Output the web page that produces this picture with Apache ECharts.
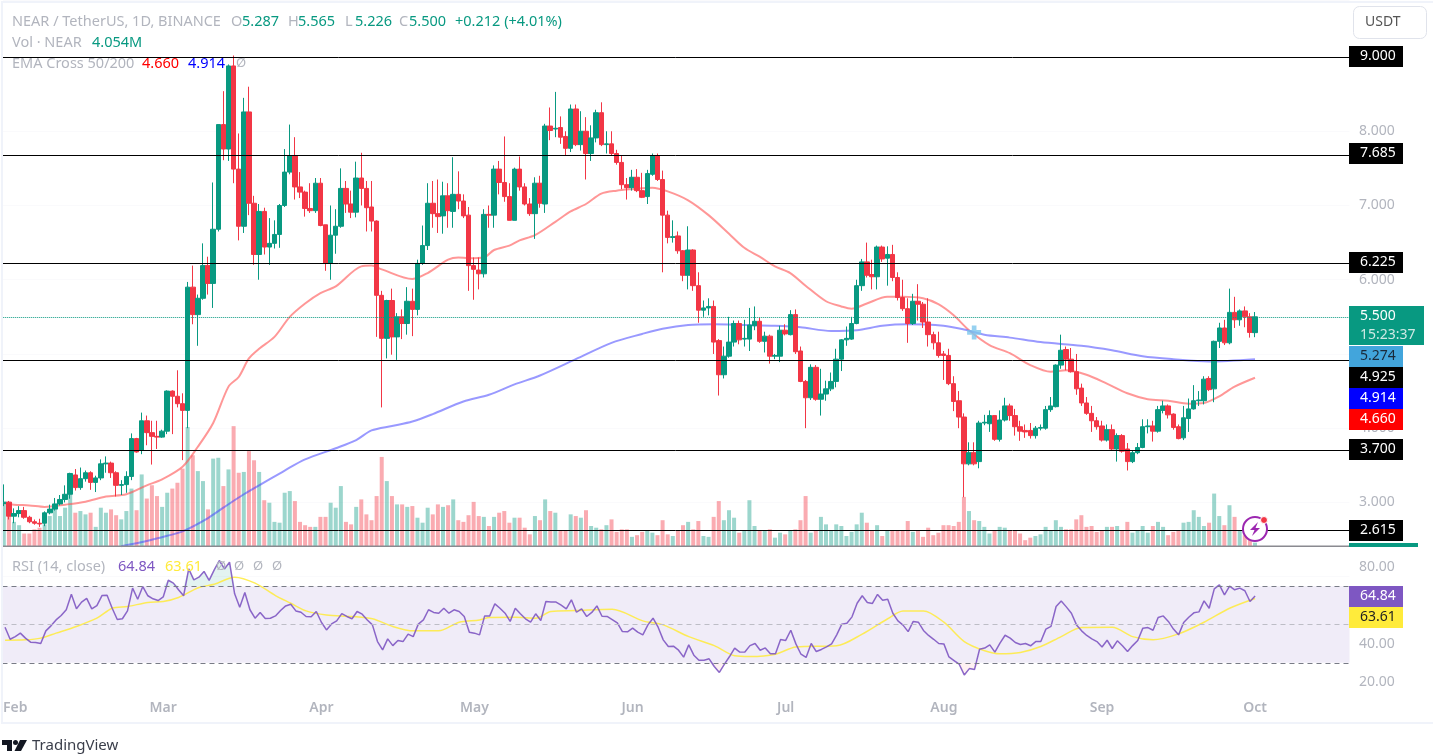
<!DOCTYPE html>
<html>
<head>
<meta charset="utf-8">
<title>NEAR / TetherUS</title>
<style>
html, body { margin: 0; padding: 0; background: #fff; }
#chart { width: 1433px; height: 756px; }
</style>
<script src="https://cdn.jsdelivr.net/npm/echarts@6/dist/echarts.min.js"></script>
</head>
<body>
<div id="chart"></div>
<script>
// daily bars, 30 Jan 2024 to 1 Oct 2024
var opens = [
  2.986,3.004,2.815,2.85,2.89,2.80,2.74,2.72,2.72,2.86,
  2.91,2.98,3.04,3.11,3.37,3.20,3.32,3.40,3.27,3.33,
  3.52,3.53,3.40,3.23,3.24,3.35,3.86,3.70,4.10,3.94,
  3.89,3.88,3.96,4.50,4.43,4.33,4.24,5.90,5.53,5.75,
  6.19,5.95,6.68,8.09,7.76,8.88,7.49,6.72,8.26,7.03,
  6.34,6.92,6.44,6.49,6.61,7.0,7.45,7.67,7.25,7.18,
  6.96,6.93,7.30,6.74,6.22,6.6,6.72,7.23,7.02,6.91,
  7.37,7.23,6.98,6.79,5.79,5.21,5.72,5.23,5.50,5.41,
  5.71,5.60,6.22,6.46,7.03,6.89,6.86,7.13,6.92,7.15,
  7.06,6.87,6.19,6.13,6.08,6.88,6.87,7.49,7.31,7.12,
  6.80,7.49,7.25,7.02,6.89,7.30,7.02,8.07,8.03,8.05,
  7.93,7.77,8.30,7.82,8.0,7.70,7.91,8.25,7.82,7.83,
  7.70,7.58,7.28,7.24,7.38,7.20,7.12,7.42,7.67,7.35,
  6.87,6.57,6.59,6.39,6.06,6.40,5.92,5.59,5.62,5.64,
  5.18,4.72,4.97,5.16,5.41,5.2,5.2,5.38,5.44,5.17,
  5.24,4.97,4.97,5.32,5.26,5.53,5.04,4.63,4.41,4.82,
  4.39,4.46,4.53,4.63,4.93,5.19,5.2,5.41,5.92,6.24,
  6.07,6.04,6.44,6.29,6.34,6.03,5.76,5.61,5.41,5.71,
  5.67,5.43,5.26,5.15,5.0,4.98,4.6,4.37,4.15,3.52,
  3.67,3.55,4.07,4.06,4.17,3.85,4.11,4.30,4.17,4.02,
  3.97,3.97,3.9,4.0,4.0,4.25,4.29,4.85,5.06,4.93,
  4.76,4.54,4.34,4.2,4.1,4.03,3.84,3.98,3.72,3.9,
  3.72,3.55,3.67,3.74,4.02,4.03,3.96,4.24,4.3,4.19,
  4.02,3.87,4.13,4.26,4.37,4.37,4.67,4.53,5.17,5.35,
  5.15,5.56,5.46,5.58,5.5,5.287
];
var closes = [
  3.004,2.815,2.85,2.89,2.80,2.74,2.72,2.71,2.86,2.91,
  2.98,3.04,3.11,3.39,3.20,3.32,3.40,3.27,3.33,3.52,
  3.53,3.40,3.23,3.24,3.35,3.86,3.68,4.10,3.94,3.89,
  3.88,3.96,4.50,4.43,4.33,4.24,5.90,5.53,5.75,6.19,
  5.95,6.68,8.09,7.76,8.88,7.49,6.72,8.26,7.03,6.34,
  6.92,6.44,6.49,6.61,7.0,7.45,7.67,7.25,7.18,6.96,
  6.93,7.30,6.73,6.22,6.6,6.72,7.23,7.02,6.91,7.37,
  7.23,6.97,6.79,5.79,5.21,5.72,5.23,5.50,5.41,5.71,
  5.60,6.22,6.46,7.03,6.89,6.85,7.13,6.93,7.15,7.06,
  6.86,6.19,6.14,6.08,6.88,6.87,7.49,7.31,7.12,6.80,
  7.49,7.25,7.02,6.89,7.30,7.03,8.07,8.01,8.04,7.92,
  7.77,8.30,7.82,8.0,7.70,7.91,8.25,7.82,7.83,7.70,
  7.58,7.28,7.24,7.38,7.20,7.11,7.43,7.67,7.35,6.87,
  6.57,6.58,6.39,6.06,6.40,5.92,5.59,5.62,5.64,5.16,
  4.72,4.97,5.16,5.41,5.19,5.21,5.39,5.44,5.17,5.24,
  4.97,4.98,5.32,5.27,5.53,5.03,4.63,4.41,4.82,4.39,
  4.46,4.53,4.63,4.93,5.19,5.21,5.41,5.92,6.24,6.06,
  6.04,6.44,6.28,6.34,6.03,5.76,5.61,5.41,5.71,5.67,
  5.43,5.26,5.15,4.98,4.98,4.6,4.36,4.15,3.52,3.67,
  3.52,4.07,4.08,4.17,3.85,4.11,4.30,4.17,4.02,3.96,
  3.95,3.9,4.0,4.01,4.25,4.3,4.85,5.05,4.93,4.76,
  4.53,4.34,4.2,4.1,4.02,3.84,3.98,3.72,3.9,3.69,
  3.55,3.67,3.74,4.02,4.03,3.96,4.25,4.3,4.18,4.01,
  3.86,4.14,4.26,4.37,4.38,4.66,4.52,5.17,5.35,5.15,
  5.56,5.46,5.58,5.5,5.29,5.5
];
var highs = [
  3.243,3.02,2.92,2.95,2.94,2.82,2.77,2.78,2.88,2.97,
  3.06,3.10,3.23,3.40,3.45,3.47,3.43,3.42,3.36,3.58,
  3.62,3.55,3.42,3.30,3.42,3.93,3.87,4.21,4.17,4.10,
  4.10,3.98,4.51,4.51,4.78,4.47,5.97,6.19,5.80,6.49,
  6.31,7.31,8.09,8.54,8.90,9.02,7.97,8.45,8.60,7.13,
  7.02,6.97,6.83,6.80,7.02,7.76,8.09,7.92,7.45,7.20,
  7.30,7.37,7.37,6.74,7.0,6.95,7.5,7.33,7.2,7.59,
  7.71,7.33,7.33,6.8,5.85,5.73,5.88,5.55,5.6,5.90,
  5.88,6.27,6.73,7.3,7.33,7.35,7.32,7.3,7.65,7.46,
  7.15,6.98,6.3,6.3,6.95,7.0,7.54,7.6,7.93,7.3,
  7.51,7.66,7.3,7.1,7.38,7.4,8.10,8.32,8.53,8.2,
  8.0,8.36,8.36,8.27,8.19,8.08,8.29,8.39,8.0,8.0,
  7.75,7.68,7.37,7.48,7.49,7.44,7.48,7.70,7.70,7.47,
  6.93,6.8,6.65,6.4,6.72,6.41,6.1,5.72,5.75,5.72,
  5.2,5.1,5.5,5.45,5.45,5.46,5.62,5.64,5.49,5.3,
  5.26,5.0,5.38,5.4,5.59,5.6,5.1,4.65,4.86,4.85,
  4.8,4.64,4.75,5.07,5.2,5.37,5.5,6.0,6.28,6.5,
  6.27,6.46,6.46,6.45,6.47,6.1,6.0,5.75,5.81,5.94,
  5.7,5.75,5.3,5.3,5.04,5.07,4.7,4.5,4.2,3.81,
  3.81,4.1,4.18,4.24,4.17,4.24,4.41,4.33,4.26,4.1,
  4.05,4.07,4.03,4.05,4.3,4.42,4.86,5.26,5.1,5.08,
  5.0,4.6,4.42,4.3,4.15,4.1,4.05,4.05,3.93,3.92,
  3.8,3.7,3.8,4.12,4.12,4.1,4.3,4.37,4.32,4.2,
  4.05,4.3,4.4,4.58,4.5,4.7,4.7,5.18,5.42,5.46,
  5.88,5.77,5.6,5.64,5.55,5.565
];
var lows = [
  2.95,2.77,2.72,2.80,2.78,2.72,2.70,2.67,2.68,2.84,
  2.89,2.96,3.0,3.05,3.16,3.17,3.28,3.17,3.14,3.30,
  3.40,3.33,3.08,3.10,3.13,3.30,3.67,3.65,3.77,3.51,
  3.72,3.87,3.92,3.92,4.28,3.57,4.0,5.40,5.11,5.73,
  5.80,5.62,6.65,7.61,7.60,7.30,6.53,6.63,6.87,6.20,
  6.0,6.34,6.2,6.42,6.43,6.98,7.42,7.08,7.10,6.85,
  6.9,6.9,6.72,6.12,6.0,6.35,6.7,6.9,6.83,6.84,
  7.0,6.65,6.65,5.23,4.28,4.94,4.99,4.92,5.2,5.26,
  5.24,5.52,6.2,6.4,6.7,6.63,6.62,6.7,6.7,6.95,
  6.83,5.85,5.73,5.87,6.03,6.7,6.7,7.15,7.05,6.8,
  6.8,7.2,7.0,6.86,6.55,6.97,6.9,7.88,7.92,7.83,
  7.68,7.72,7.8,7.74,7.35,7.6,7.85,7.8,7.7,7.68,
  7.55,7.22,7.08,7.2,7.18,7.1,7.02,7.40,7.33,6.1,
  6.49,6.5,6.35,5.98,5.87,5.85,5.42,5.5,5.52,5.0,
  4.44,4.67,4.95,5.1,5.13,5.1,5.04,5.32,5.15,5.02,
  4.87,4.93,4.89,5.25,5.25,5.0,4.62,4.0,4.38,4.37,
  4.17,4.37,4.5,4.55,4.77,5.11,5.19,5.4,5.85,6.03,
  5.87,5.87,6.24,5.92,5.98,5.72,5.58,5.15,5.39,5.45,
  5.35,5.1,5.06,4.95,4.65,4.58,4.23,4.0,3.07,3.5,
  3.5,3.46,4.04,3.95,3.83,3.82,4.09,4.1,3.9,3.83,
  3.87,3.86,3.86,3.97,3.98,4.22,4.28,4.8,4.78,4.75,
  4.45,4.3,4.18,3.95,3.98,3.82,3.82,3.7,3.55,3.67,
  3.43,3.53,3.65,3.73,3.93,3.82,3.94,4.2,4.13,3.98,
  3.85,3.84,3.95,4.25,4.3,4.32,4.5,4.35,5.08,5.12,
  5.13,5.35,5.38,5.36,5.22,5.226
];
// volume in millions
var volumes = [
  52,53,29,25,15,15,20,22,26,36,
  44,36,46,62,40,42,38,40,23,46,
  40,44,37,32,42,69,43,86,57,73,
  60,47,64,69,76,93,143,109,90,78,
  44,105,106,72,92,144,88,89,114,103,
  89,55,52,29,28,64,66,54,29,25,
  23,23,35,35,52,46,72,29,26,47,
  56,38,31,60,107,78,60,50,50,47,
  48,34,28,46,38,50,47,49,56,31,
  29,37,53,36,35,24,35,40,42,28,
  34,34,22,14,36,31,56,42,40,18,
  18,38,36,34,43,24,22,20,25,32,
  17,20,20,11,13,17,18,16,13,31,
  14,12,18,25,29,20,30,12,11,35,
  54,31,43,34,16,18,55,24,18,18,
  20,10,16,14,18,20,31,60,16,18,
  35,26,18,26,24,12,17,26,40,28,
  18,25,12,18,18,18,18,30,17,18,
  11,22,13,16,25,25,24,29,59,42,
  31,30,23,15,18,23,22,18,18,15,
  7,10,12,14,23,19,31,23,20,20,
  32,37,23,24,17,18,23,23,24,18,
  29,16,19,24,16,24,29,23,13,17,
  18,28,29,43,35,24,28,63,36,25,
  49,35,18,13,8,4.054
];
var rsi = [
  48.6,42.3,43.7,45.5,42.9,40.8,40.6,40.1,46.7,49.3,
  52.4,54.7,57.7,65.8,58.2,61.7,63.6,58.2,59.9,65.1,
  65.3,58.5,52.6,53,57.1,69,63.2,69.8,65,63.4,
  62.5,64.4,73.1,71.6,68.1,65,79,73.3,74.7,77.7,
  73,78.5,83.4,79,82.5,66,59,66.7,57.7,53.3,
  56.3,53.1,53.3,54.5,57.3,59.7,60.6,57.1,56.4,54.2,
  54,56.8,51.2,47.2,50.3,51.9,55.7,54.2,53,56.8,
  55.4,52.4,49.8,41.1,36.8,42.5,39,41.7,41.1,45,
  43.7,50.2,52.4,57.7,56.3,55.9,58.5,55.9,57.7,56.8,
  54.2,46,45.5,44.6,54.5,54.5,60.8,58.5,55.9,51.6,
  58.5,55.6,53,51.2,55.6,52.1,62,61.8,61.7,60.1,
  58.2,62.9,56.4,58.2,54.2,56.3,59.7,54.3,54.2,52.6,
  50.9,46.3,46.2,48.1,46,44.6,49.8,53.3,48.6,42,
  38.5,38.7,36.6,33,39.4,34,31.4,31.4,32.1,28.1,
  25,29.3,33.3,37.7,35.6,35.7,39,40.1,36.6,37.8,
  34.7,34.7,42.2,41.7,47,39.9,34.5,32.8,40.1,35.9,
  37,38.3,39.9,44.6,50.2,50.7,54,61.1,65,61.5,
  61,65.7,62.7,63.2,55.9,51.9,49.7,46.3,51.6,51.2,
  46.9,44.3,42.3,40.1,39.9,33.1,31.2,29.3,23.7,27,
  26.5,37.1,37.7,39.4,35.6,40.3,44.4,42.9,40.6,39.6,
  40.1,38.9,41.1,41.1,47.6,49,59.4,62.3,59.2,55.9,
  49.8,46.7,44.3,42.5,41.1,38.3,41.8,37.5,41.5,38.9,
  35.9,39,41.7,48.1,48.4,47,53.7,54.5,51.6,47.6,
  44.6,51,53.8,56.1,56.6,62.3,58.5,68.6,70.7,65.5,
  70,68.1,69,67.6,62,64.84
];
// the smooth lines are read at a sample of days: [bar number, value]
var ema50 = [
  [0,2.99],[2,2.97],[5,2.96],[8,2.94],[12,2.97],[16,3.01],[20,3.08],[24,3.11],[28,3.23],[31,3.31],
  [35,3.48],[38,3.75],[41,4.07],[44,4.56],[46,4.69],[48,4.94],[50,5.07],[53,5.23],[56,5.50],[59,5.68],
  [62,5.82],[65,5.91],[70,6.18],[72,6.19],[74,6.14],[80,6.01],[83,6.09],[87,6.27],[89,6.30],[91,6.29],
  [94,6.30],[96,6.40],[99,6.46],[101,6.53],[104,6.60],[108,6.78],[111,6.92],[114,7.02],[117,7.16],[120,7.20],
  [123,7.22],[127,7.24],[130,7.19],[134,7.07],[138,6.87],[142,6.62],[145,6.43],[148,6.31],[151,6.18],[154,6.09],
  [157,5.92],[161,5.71],[164,5.64],[166,5.61],[169,5.68],[173,5.77],[176,5.77],[180,5.75],[183,5.67],[186,5.52],
  [189,5.32],[193,5.12],[197,5.01],[201,4.85],[205,4.76],[208,4.78],[212,4.72],[216,4.60],[220,4.47],[224,4.39],
  [228,4.37],[232,4.33],[235,4.34],[238,4.43],[241,4.56],[245,4.68]
];
var ema200 = [
  [23,2.41],[28,2.48],[32,2.55],[35,2.61],[40,2.79],[43,2.93],[47,3.11],[51,3.27],[55,3.43],[59,3.58],
  [65,3.73],[69,3.84],[72,3.97],[76,4.03],[80,4.09],[84,4.19],[90,4.36],[95,4.45],[100,4.59],[105,4.71],
  [112,4.93],[119,5.15],[125,5.27],[129,5.34],[134,5.39],[139,5.40],[145,5.39],[151,5.38],[156,5.36],[162,5.31],
  [167,5.32],[172,5.38],[177,5.40],[184,5.38],[188,5.33],[192,5.26],[197,5.22],[203,5.16],[211,5.11],[217,5.05],
  [223,4.97],[229,4.93],[236,4.90],[245,4.93]
];
var rsiMa = [
  [0,41.8],[4,42],[7,42.9],[10,45.5],[14,49],[18,53.3],[21,58.5],[24,59.4],[28,61.5],[31,62],
  [34,64.1],[38,69.3],[41,71],[45,74.7],[49,71.6],[53,65.1],[56,61.1],[59,57.1],[63,55],[68,54.2],
  [72,53],[76,49],[80,46.7],[85,46.7],[89,51.2],[93,52.4],[95,53.7],[100,53.8],[104,53.3],[107,56.8],
  [112,57.3],[119,58],[125,51.9],[129,49.8],[134,43.7],[139,39],[143,33.7],[146,33.3],[151,34.5],[155,38.3],
  [163,38.9],[168,45],[173,53],[176,57],[180,57.1],[184,51.2],[188,41.1],[192,36.3],[195,34.7],[199,35.4],
  [203,38.5],[207,43.7],[211,48.4],[217,48.6],[221,43.7],[225,42],[230,45.1],[235,51.2],[240,58.5],[245,63.61]
];
var crossPoint = [[190, 5.29]];
var levels = [9, 7.685, 6.225, 4.925, 3.7, 2.615];
var lastPrice = 5.5;
var monthNames = { '02-01': 'Feb', '03-01': 'Mar', '04-01': 'Apr', '05-01': 'May', '06-01': 'Jun', '07-01': 'Jul', '08-01': 'Aug', '09-01': 'Sep', '10-01': 'Oct' };

var UP = '#089981', DOWN = '#F23645', MUTED = '#b2b5be';
var FONT = '"Noto Sans", sans-serif';
var BARS = 264; // room for the empty space right of the last bar

var days = [];
for (var k = 0; k < BARS; k++) {
  days.push(new Date(Date.UTC(2024, 0, 30 + k)).toISOString().slice(0, 10));
}
var candles = opens.map(function (o, i) { return [o, closes[i], lows[i], highs[i]]; });
var volumeBars = volumes.map(function (v, i) {
  return { value: v, itemStyle: { color: closes[i] >= opens[i] ? 'rgba(8,153,129,0.4)' : 'rgba(242,54,69,0.42)' } };
});

// helpers for the bits of chrome around the chart
function label(text, x, y, fill, size, extra) {
  var style = { text: text, x: x, y: y, fill: fill, font: (size || 14.5) + 'px ' + FONT, textVerticalAlign: 'middle' };
  for (var key in extra) style[key] = extra[key];
  return { type: 'text', z: 110, silent: true, style: style };
}
function box(x, y, w, h, fill) {
  return { type: 'rect', z: 105, silent: true, shape: { x: x, y: y, width: w, height: h }, style: { fill: fill } };
}
function tag(text, top, fill, color) {
  return [box(1349, top, 54, 21, fill), label(text, 1360, top + 10.5, color, 14)];
}

var graphics = [].concat(
  box(0, 0, 3, 723, '#fff'),
  box(0, 723, 1433, 33, '#fff'),
  box(1, 1, 1432, 2, '#f0f3fa'),
  box(1, 1, 2, 723, '#f0f3fa'),
  box(1, 722, 1432, 2, '#f0f3fa'),
  box(3, 545.5, 1346, 1.5, '#8a8a90'),
  box(1349, 543, 69, 4, UP),
  // legend rows
  label('NEAR / TetherUS, 1D, BINANCE', 12, 21.5, MUTED),
  label('O', 231, 21.5, MUTED), label('5.287', 242, 21.5, UP),
  label('H', 288, 21.5, MUTED), label('5.565', 298, 21.5, UP),
  label('L', 345, 21.5, MUTED), label('5.226', 355, 21.5, UP),
  label('C', 399, 21.5, MUTED), label('5.500', 409, 21.5, UP),
  label('+0.212 (+4.01%)', 455, 21.5, UP),
  label('Vol \u00b7 NEAR', 12, 43, MUTED), label('4.054M', 92, 43, UP),
  label('EMA Cross 50/200', 12, 63.5, MUTED), label('4.660', 142, 63.5, '#ff0000'), label('4.914', 188, 63.5, '#0000ff'),
  label('\u00d8', 236, 63.5, MUTED, 13),
  label('RSI (14, close)', 12, 566.5, MUTED), label('64.84', 118, 566.5, '#7e57c2'), label('63.61', 165, 566.5, '#ffeb3b'),
  label('\u00d8', 216, 566.5, MUTED, 13), label('\u00d8', 234, 566.5, MUTED, 13), label('\u00d8', 253, 566.5, MUTED, 13), label('\u00d8', 272, 566.5, MUTED, 13),
  // currency button
  { type: 'rect', z: 105, silent: true, shape: { x: 1353.5, y: 6.5, width: 73, height: 32, r: 6 }, style: { fill: '#fff', stroke: '#e0e3eb' } },
  label('USDT', 1365, 22, '#555', 14),
  // price tags
  tag('9.000', 46, '#000', '#fff'),
  tag('7.685', 143, '#000', '#fff'),
  tag('6.225', 252, '#000', '#fff'),
  box(1349, 306, 75, 39, UP),
  label('5.500', 1360, 316, '#fff', 14),
  label('15:23:37', 1360, 335, '#cfe9e4', 14),
  tag('5.274', 346, '#42a5dc', '#1a2a3a'),
  tag('4.925', 367, '#000', '#fff'),
  tag('4.914', 388, '#0000ff', '#fff'),
  tag('4.660', 409, '#ff0000', '#fff'),
  tag('3.700', 439, '#000', '#fff'),
  tag('2.615', 520, '#000', '#fff'),
  tag('64.84', 586, '#7e57c2', '#fff'),
  tag('63.61', 607, '#ffeb3b', '#222'),
  // lightning badge
  { type: 'circle', z: 105, silent: true, shape: { cx: 1255, cy: 529, r: 12 }, style: { fill: '#fff', stroke: '#9c27b0', lineWidth: 2 } },
  { type: 'polygon', z: 106, silent: true, shape: { points: [[1258, 522], [1250, 530], [1254.5, 530], [1252, 536], [1260, 528], [1255.5, 528]] }, style: { fill: '#9c27b0' } },
  { type: 'circle', z: 106, silent: true, shape: { cx: 1264, cy: 520, r: 3.5 }, style: { fill: DOWN, stroke: '#fff', lineWidth: 1 } },
  // TradingView mark
  { type: 'polygon', z: 106, silent: true, shape: { points: [[2, 740], [12, 740], [12, 751], [7, 751], [7, 745], [2, 745]] }, style: { fill: '#131722' } },
  { type: 'circle', z: 106, silent: true, shape: { cx: 15.5, cy: 742.5, r: 2.5 }, style: { fill: '#131722' } },
  { type: 'polygon', z: 106, silent: true, shape: { points: [[20, 740], [27, 740], [21, 751], [14.5, 751]] }, style: { fill: '#131722' } },
  label('TradingView', 32, 746, '#3a3e4a', 15)
);

var axisLabelStyle = { color: MUTED, fontFamily: FONT, fontSize: 14 };
var faint = { show: true, lineStyle: { color: '#fafafc', width: 1 } };

var chart = echarts.init(document.getElementById('chart'));
chart.setOption({
  animation: false,
  backgroundColor: '#fff',
  // scales are linear, 74.24 px per 1.0 price and 1.917 px per RSI point
  grid: [
    { left: 1.24, width: 1348.25, top: 0, height: 576.67 },
    { left: 1.24, width: 1348.25, top: 5, height: 541 },
    { left: 1.24, width: 1348.25, top: 528.67, height: 191.7 }
  ],
  xAxis: [
    { type: 'category', gridIndex: 0, data: days, show: false },
    { type: 'category', gridIndex: 1, data: days, show: false },
    {
      type: 'category', gridIndex: 2, data: days,
      axisLine: { show: false }, axisTick: { show: false }, splitLine: { show: false },
      axisLabel: {
        interval: 0, margin: -19.5, color: MUTED, fontFamily: FONT, fontSize: 14, fontWeight: 600,
        formatter: function (d) { return monthNames[d.slice(5)] || ''; }
      }
    }
  ],
  yAxis: [
    {
      type: 'value', gridIndex: 0, position: 'right', min: 2, max: 9.768, interval: 1,
      axisLine: { show: false }, axisTick: { show: false }, splitLine: faint,
      axisLabel: Object.assign({ margin: 9.5, formatter: function (v) { return v >= 3 && v <= 9 ? v.toFixed(3) : ''; } }, axisLabelStyle)
    },
    { type: 'value', gridIndex: 1, min: 0, max: 650, show: false },
    {
      type: 'value', gridIndex: 2, position: 'right', min: 0, max: 100, interval: 20,
      axisLine: { show: false }, axisTick: { show: false }, splitLine: { show: false },
      axisLabel: Object.assign({ margin: 9.5, formatter: function (v) { return v >= 20 && v <= 80 ? v.toFixed(2) : ''; } }, axisLabelStyle)
    }
  ],
  series: [
    {
      type: 'bar', name: 'Vol', xAxisIndex: 1, yAxisIndex: 1, data: volumeBars, barWidth: 4, z: 1
    },
    {
      type: 'line', name: 'EMA 50', data: ema50, smooth: 0.3, symbol: 'none', z: 2,
      lineStyle: { color: 'rgba(255,82,82,0.6)', width: 2 }
    },
    {
      type: 'line', name: 'EMA 200', data: ema200, smooth: 0.3, symbol: 'none', z: 2,
      lineStyle: { color: 'rgba(70,70,255,0.55)', width: 2 }
    },
    {
      type: 'candlestick', name: 'NEAR', data: candles, barWidth: 5, z: 3,
      itemStyle: { color: UP, color0: DOWN, borderColor: UP, borderColor0: DOWN, borderWidth: 1 },
      markLine: {
        silent: true, symbol: 'none', animation: false, label: { show: false },
        data: levels.map(function (v) {
          return { yAxis: v, lineStyle: { color: '#000', width: 1, type: 'solid' } };
        }).concat([{ yAxis: lastPrice, lineStyle: { color: UP, width: 1, type: 'dotted' } }])
      }
    },
    {
      type: 'scatter', name: 'Cross', data: crossPoint, z: 4,
      symbol: 'path://M4 0h4v4h4v4H8v4H4V8H0V4h4z', symbolSize: 14,
      itemStyle: { color: '#7cc6ec' }
    },
    {
      type: 'line', name: 'Overbought', xAxisIndex: 2, yAxisIndex: 2, symbol: 'none', z: 2,
      data: rsi.map(function (v) { return Math.max(v, 70); }),
      lineStyle: { width: 0 }, areaStyle: { origin: 70, color: 'rgba(8,153,129,0.16)' }
    },
    {
      type: 'line', name: 'Oversold', xAxisIndex: 2, yAxisIndex: 2, symbol: 'none', z: 2,
      data: rsi.map(function (v) { return Math.min(v, 30); }),
      lineStyle: { width: 0 }, areaStyle: { origin: 30, color: 'rgba(242,54,69,0.1)' }
    },
    {
      type: 'line', name: 'RSI MA', xAxisIndex: 2, yAxisIndex: 2, data: rsiMa, smooth: 0.3, symbol: 'none', z: 3,
      lineStyle: { color: '#ffeb3b', width: 1.5, opacity: 0.85 }
    },
    {
      type: 'line', name: 'RSI', xAxisIndex: 2, yAxisIndex: 2, data: rsi, symbol: 'none', z: 4,
      lineStyle: { color: '#7e57c2', width: 1.5, opacity: 0.9 },
      markArea: { silent: true, data: [[{ yAxis: 30 }, { yAxis: 70 }]], itemStyle: { color: 'rgba(126,87,194,0.115)' } },
      markLine: {
        silent: true, symbol: 'none', animation: false, label: { show: false },
        data: [
          { yAxis: 70, lineStyle: { color: '#787b86', width: 1, type: [5, 4] } },
          { yAxis: 50, lineStyle: { color: '#bdbdc6', width: 1, type: [5, 4] } },
          { yAxis: 30, lineStyle: { color: '#787b86', width: 1, type: [5, 4] } }
        ]
      }
    }
  ],
  graphic: { elements: graphics }
});
</script>
</body>
</html>
